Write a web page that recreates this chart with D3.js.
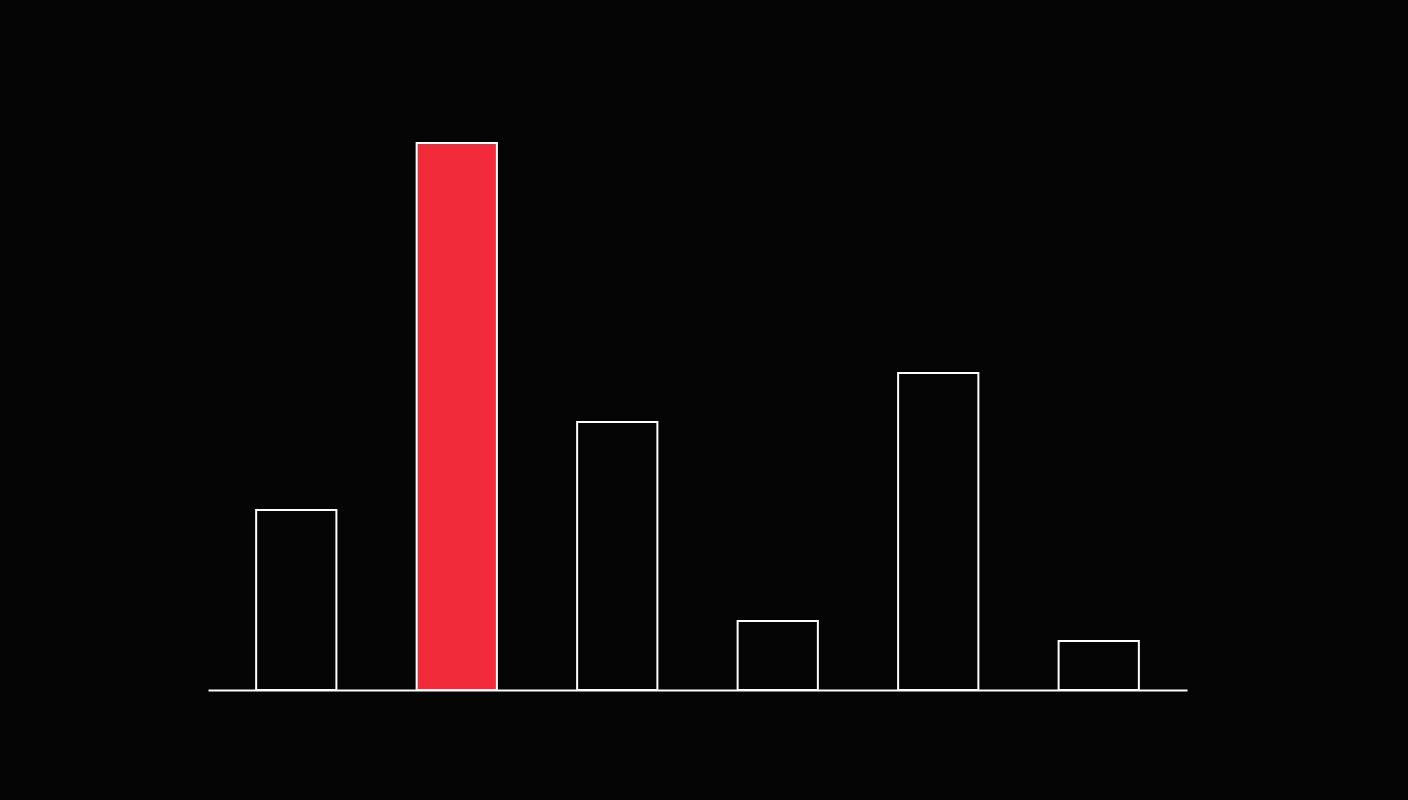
<!DOCTYPE html>
<html>
<head>
<meta charset="utf-8">
<script src="https://cdn.jsdelivr.net/npm/d3@7"></script>
<style>
  html, body { margin: 0; padding: 0; background: #050505; }
  svg { display: block; }
</style>
</head>
<body>
<script>
// DATA
const categories = ["A", "B", "C", "D", "E", "F"];
const values = [180, 547, 268, 69, 317, 49];
const highlighted = ["B"];

// FRAME
const W = 1408, H = 800;
const margin = { top: 143, right: 221, bottom: 110, left: 208 };

const svg = d3.select("body")
  .append("svg")
  .attr("width", W)
  .attr("height", H);

svg.append("rect")
  .attr("width", W)
  .attr("height", H)
  .attr("fill", "#050505");

// SCALES
const x = d3.scaleBand()
  .domain(categories)
  .range([margin.left, W - margin.right])
  .paddingInner(0.5)
  .paddingOuter(0.3);

const y = d3.scaleLinear()
  .domain([0, d3.max(values)])
  .range([H - margin.bottom, margin.top]);

// BARS
svg.append("g")
  .selectAll("rect")
  .data(categories)
  .join("rect")
  .attr("x", d => x(d))
  .attr("y", (d, i) => y(values[i]))
  .attr("width", x.bandwidth())
  .attr("height", (d, i) => y(0) - y(values[i]))
  .attr("fill", d => highlighted.includes(d) ? "#f22b3a" : "none")
  .attr("stroke", "#ffffff")
  .attr("stroke-width", 2);

// BASELINE
const axis = svg.append("g")
  .attr("transform", `translate(0, ${y(0)})`)
  .call(d3.axisBottom(x).tickSize(0).tickFormat(""));
axis.select(".domain")
  .attr("stroke", "#ffffff")
  .attr("stroke-width", 2);
</script>
</body>
</html>
